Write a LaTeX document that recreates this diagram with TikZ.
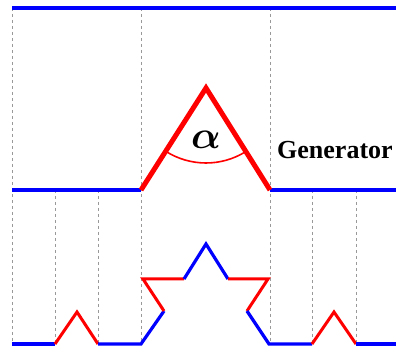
\documentclass[tikz,border=0pt]{standalone}
\usepackage{fix-cm}
\usepackage{fontspec}
\setmainfont{Liberation Serif}
\usepackage{bm}

\begin{document}
\begin{tikzpicture}[x=1pt,y=1pt,
  guide/.style={gray!80,line width=0.9pt,dash pattern=on 3pt off 3pt},
  blueline/.style={blue,line width=3.2pt,line join=miter},
  redline/.style={red,line width=3pt,line join=miter}]
\clip (0,0) rectangle (396,350);

% dashed guides
\foreach \x in {12,141,270}
  \draw[guide] (\x,342) -- (\x,6);
\foreach \x in {55,98,312,356}
  \draw[guide] (\x,160) -- (\x,6);

% initiator
\draw[blueline,line width=3.6pt] (12,342) -- (400,342);

% generator
\draw[blueline,line width=3.6pt] (12,160) -- (141,160);
\draw[blueline,line width=3.6pt] (270,160) -- (400,160);
\draw[red,line width=5pt,line join=miter] (141,160) -- (206,262) -- (270,160);
\draw[red,line width=1.6pt] (206,262) ++(237.5:75) arc (237.5:302:75);
\node[inner sep=0pt] (alpha) at (206,210) {\scalebox{3.9}{$\bm{\alpha}$}};
\node[anchor=base west,inner sep=0pt] (gen) at (277,191) {\fontsize{26}{30}\selectfont\bfseries Generator};

% second step
\draw[blueline] (12,6) -- (55,6);
\draw[redline] (55,6) -- (77,38) -- (98,6);
\draw[blueline] (98,6) -- (141,6) -- (164,39);
\draw[redline] (164,39) -- (143,71) -- (184,71);
\draw[blueline] (184,71) -- (206,106) -- (228,71);
\draw[redline] (228,71) -- (268,71) -- (247,39);
\draw[blueline] (247,39) -- (269,6) -- (312,6);
\draw[redline] (312,6) -- (334,38) -- (356,6);
\draw[blueline] (356,6) -- (400,6);
\end{tikzpicture}
\end{document}
